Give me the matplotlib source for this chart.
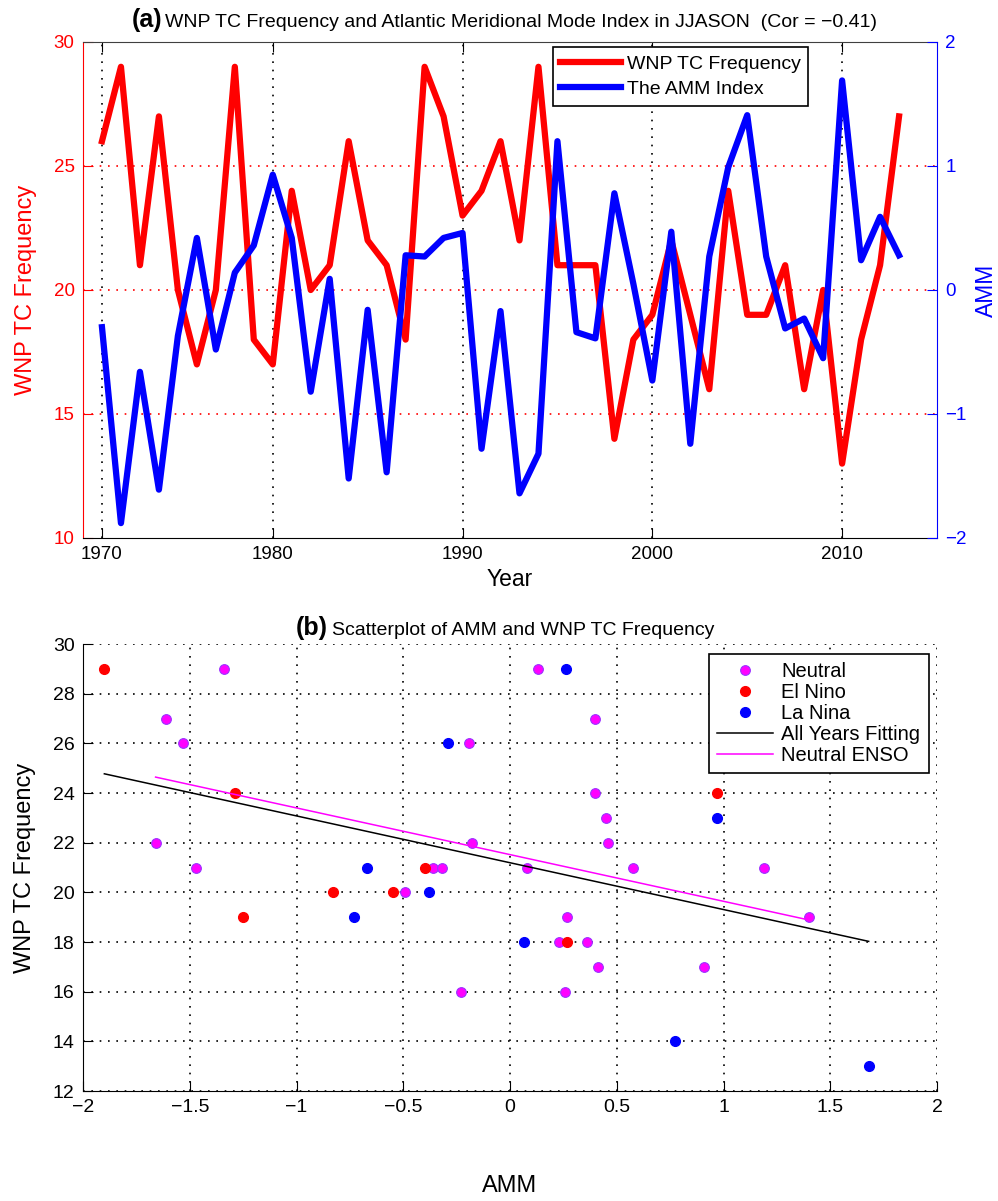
import numpy as np
import matplotlib.pyplot as plt

plt.rcParams['font.family'] = ['Liberation Sans', 'DejaVu Sans']

# panel (a): JJASON series (43 seasons, plotted against season index)
season = np.arange(1, 44)
tc_freq = [26, 29, 21, 27, 20, 17, 20, 29, 18, 17, 24, 20, 21, 26, 22, 21, 18, 29, 27, 23,
           24, 26, 22, 29, 21, 21, 21, 14, 18, 19, 22, 19, 16, 24, 19, 19, 21, 16, 20, 13,
           18, 21, 27]
amm = [-0.30, -1.88, -0.66, -1.61, -0.37, 0.42, -0.48, 0.14, 0.36, 0.93,
       0.42, -0.82, 0.09, -1.52, -0.16, -1.47, 0.28, 0.27, 0.42, 0.46,
       -1.28, -0.17, -1.64, -1.32, 1.20, -0.34, -0.39, 0.78, 0.05, -0.73,
       0.47, -1.24, 0.27, 0.99, 1.41, 0.27, -0.31, -0.23, -0.55, 1.69,
       0.24, 0.59, 0.28]
year_ticks = [1, 10, 20, 30, 40]
year_labels = ['1970', '1980', '1990', '2000', '2010']

# panel (b): scatter split by ENSO phase
neutral_amm = [-1.34, -1.61, -1.53, -1.66, -1.47, -0.36, -0.32, 0.08, -0.49, -0.23,
               -0.19, -0.18, 0.13, 0.40, 0.40, 0.45, 0.46, 0.575, 1.19, 0.265,
               1.40, 0.23, 0.36, 0.41, 0.91, 0.257]
neutral_tc = [29, 27, 26, 22, 21, 21, 21, 21, 20, 16,
              26, 22, 29, 27, 24, 23, 22, 21, 21, 19,
              19, 18, 18, 17, 17, 16]
elnino_amm = [-1.90, -1.29, -0.40, -0.83, -0.55, -1.25, 0.265, 0.97]
elnino_tc = [29, 24, 21, 20, 20, 19, 18, 24]
lanina_amm = [-0.67, -0.38, -0.73, 0.064, -0.29, 0.26, 0.97, 0.773, 1.68]
lanina_tc = [21, 20, 19, 18, 26, 29, 23, 14, 13]

W, H = 998, 1201
fig = plt.figure(figsize=(W / 100, H / 100), dpi=100)
dots = (0, (1, 4))

# ---------- (a) ----------
ax1 = fig.add_axes([83 / W, 1 - 538 / H, 854 / W, 496 / H])
ax2 = ax1.twinx()
l1, = ax1.plot(season, tc_freq, color='red', lw=4.5, label='WNP TC Frequency')
l2, = ax2.plot(season, amm, color='blue', lw=4.5, label='The AMM Index')
ax1.set_xlim(0, 45)
ax1.set_ylim(10, 30)
ax2.set_ylim(-2, 2)
ax1.set_xticks(year_ticks, year_labels)
ax1.set_yticks([10, 15, 20, 25, 30])
ax2.set_yticks([-2, -1, 0, 1, 2])

ax1.xaxis.grid(True, color='black', linestyle=dots, lw=1.2)
ax1.yaxis.grid(True, color='red', linestyle=dots, lw=1.2)
for g in (ax1.get_ygridlines()[0], ax1.get_ygridlines()[-1]):
    g.set_visible(False)

ax1.xaxis.set_ticks_position('both')
ax1.tick_params(axis='x', direction='in', length=7, labelsize=13.5, pad=6, colors='black')
ax1.tick_params(axis='y', direction='in', length=7, labelsize=13.5, pad=6, colors='red')
ax2.tick_params(axis='y', direction='in', length=7, labelsize=13.5, pad=6, colors='blue')

ax1.spines['left'].set_color('red')
ax1.spines['right'].set_visible(False)
ax1.spines['top'].set_color('#404040')
for s in ('left', 'top', 'bottom'):
    ax2.spines[s].set_visible(False)
ax2.spines['right'].set_color('blue')

ax1.set_ylabel('WNP TC Frequency', color='red', fontsize=17, labelpad=12)
ax2.set_ylabel('AMM', color='blue', fontsize=16.5, labelpad=6)
ax1.set_xlabel('Year', fontsize=16.5, labelpad=3)

leg = ax2.legend([l1, l2], [l1.get_label(), l2.get_label()], loc='upper left',
                 bbox_to_anchor=(0.550, 0.989), borderaxespad=0, fontsize=14,
                 handlelength=3.1, handletextpad=0.3, labelspacing=0.4,
                 fancybox=False, edgecolor='black', framealpha=1)
leg.get_frame().set_linewidth(1.2)

fig.text(162 / W, 1 - 27 / H, '(a)', ha='right', va='baseline', fontsize=18, fontweight='bold')
fig.text(165 / W, 1 - 27 / H,
         'WNP TC Frequency and Atlantic Meridional Mode Index in JJASON  (Cor = \u22120.41)',
         ha='left', va='baseline', fontsize=14)

# ---------- (b) ----------
ax3 = fig.add_axes([83 / W, 1 - 1091 / H, 854 / W, 447 / H])
ms = 7
ax3.plot(neutral_amm, neutral_tc, 'o', ls='none', ms=ms, mfc='magenta', mec='#9933ff',
         mew=0.8, label='Neutral')
ax3.plot(elnino_amm, elnino_tc, 'o', ls='none', ms=ms, mfc='red', mec='red', label='El Nino')
ax3.plot(lanina_amm, lanina_tc, 'o', ls='none', ms=ms, mfc='blue', mec='blue', label='La Nina')

all_amm = np.array(neutral_amm + elnino_amm + lanina_amm)
all_tc = np.array(neutral_tc + elnino_tc + lanina_tc)
p_all = np.polyfit(all_amm, all_tc, 1)
xa = np.array([all_amm.min(), all_amm.max()])
ax3.plot(xa, np.polyval(p_all, xa), color='black', lw=1.1, label='All Years Fitting')
p_neu = np.polyfit(neutral_amm, neutral_tc, 1)
xn = np.array([min(neutral_amm), max(neutral_amm)])
ax3.plot(xn, np.polyval(p_neu, xn), color='magenta', lw=1.1, label='Neutral ENSO')

ax3.set_xlim(-2, 2)
ax3.set_ylim(12, 30)
xt = np.arange(-2, 2.01, 0.5)
ax3.set_xticks(xt, [f'{v:g}'.replace('-', '\u2212') for v in xt])
ax3.set_yticks(np.arange(12, 31, 2))
ax3.grid(True, color='black', linestyle=dots, lw=1.2)
ax3.set_axisbelow(True)
ax3.spines['top'].set_visible(False)
ax3.spines['right'].set_visible(False)
ax3.tick_params(direction='in', length=7, labelsize=14, pad=6)
ax3.set_xlabel('AMM', fontsize=17, labelpad=42)
ax3.set_ylabel('WNP TC Frequency', fontsize=17, labelpad=12)

leg2 = ax3.legend(loc='upper left', bbox_to_anchor=(0.733, 0.978), borderaxespad=0,
                  fontsize=14.5, handlelength=2.8, handletextpad=0.4, labelspacing=0.1,
                  numpoints=1, fancybox=False, edgecolor='black', framealpha=1)
leg2.get_frame().set_linewidth(1.2)

fig.text(328 / W, 1 - 635 / H, '(b)', ha='right', va='baseline', fontsize=18, fontweight='bold')
fig.text(332 / W, 1 - 635 / H, 'Scatterplot of AMM and WNP TC Frequency',
         ha='left', va='baseline', fontsize=14)

fig.savefig('out.png', dpi=100)
